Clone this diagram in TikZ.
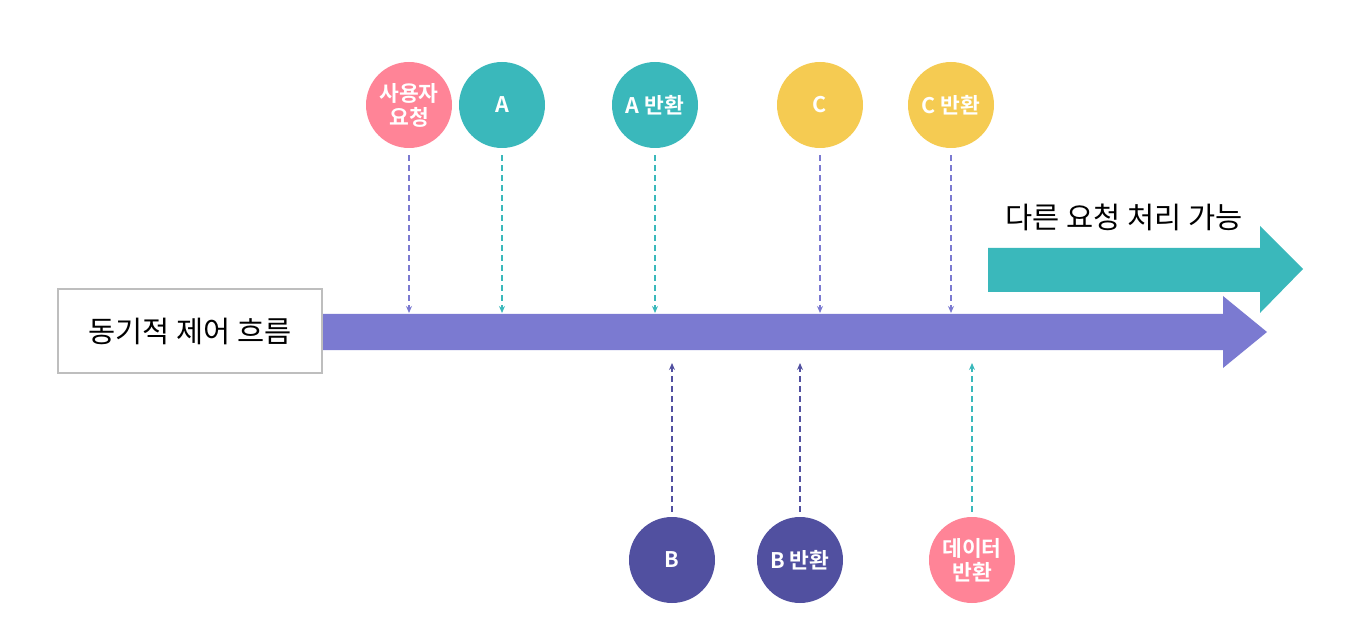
\documentclass[tikz,border=0pt]{standalone}
\usepackage{fontspec}
\usepackage{xcolor}
\usetikzlibrary{arrows.meta}
\newfontfamily\kr{Noto Sans CJK KR}[BoldFont={Noto Sans CJK KR Bold}]
\definecolor{pinkc}{HTML}{FF8497}
\definecolor{tealc}{HTML}{3AB8BB}
\definecolor{yellowc}{HTML}{F5CB52}
\definecolor{barc}{HTML}{7B7AD1}
\definecolor{darkc}{HTML}{5150A0}
\definecolor{boxc}{HTML}{BEBEBE}
\tikzset{
  ev/.style={circle, minimum size=86pt, inner sep=0pt, text=white, align=center,
    font=\kr\bfseries\fontsize{21.5}{25}\selectfont},
  link/.style={dashed, dash pattern=on 6pt off 4pt, line width=1.8pt, -{Stealth[length=7pt,width=6pt]}}
}
\begin{document}
\begin{tikzpicture}[x=1pt,y=-1pt]
\useasboundingbox (0,0) rectangle (1345,639);
% flows
\fill[barc] (322,314) -- (1223,314) -- (1223,296) -- (1267,332) -- (1223,368) -- (1223,350) -- (322,350) -- cycle;
\fill[tealc] (988,248) -- (1260,248) -- (1260,226) -- (1303,269) -- (1260,313) -- (1260,292) -- (988,292) -- cycle;
\node[font=\kr\fontsize{29.5}{34}\selectfont] (other) at (1124,217) {다른 요청 처리 가능};
\node[draw=boxc, line width=2pt, minimum width=264pt, minimum height=83pt, fill=white,
  font=\kr\fontsize{29.5}{34}\selectfont] (sync) at (190,331) {동기적 제어 흐름};
% events above
\node[ev, fill=pinkc] (req) at (409,105) {사용자\\[-1pt]요청};
\node[ev, fill=tealc] (a) at (502,105) {A};
\node[ev, fill=tealc] (aret) at (655,105) {A 반환};
\node[ev, fill=yellowc] (c) at (820,105) {C};
\node[ev, fill=yellowc] (cret) at (951,105) {C 반환};
% events below
\node[ev, fill=darkc] (b) at (672,560) {B};
\node[ev, fill=darkc] (bret) at (800,560) {B 반환};
\node[ev, fill=pinkc] (data) at (972,560) {데이터\\[-1pt]반환};
\coordinate (reqE) at (409,313);
\coordinate (aE) at (502,313);
\coordinate (aretE) at (655,313);
\coordinate (cE) at (820,313);
\coordinate (cretE) at (951,313);
\coordinate (bE) at (672,363);
\coordinate (bretE) at (800,363);
\coordinate (dataE) at (972,363);
\draw[link, barc] ([yshift=-7pt]req.south) -- (reqE);
\draw[link, tealc] ([yshift=-7pt]a.south) -- (aE);
\draw[link, tealc] ([yshift=-7pt]aret.south) -- (aretE);
\draw[link, barc] ([yshift=-7pt]c.south) -- (cE);
\draw[link, barc] ([yshift=-7pt]cret.south) -- (cretE);
\draw[link, darkc] ([yshift=5pt]b.north) -- (bE);
\draw[link, darkc] ([yshift=5pt]bret.north) -- (bretE);
\draw[link, tealc] ([yshift=5pt]data.north) -- (dataE);
\end{tikzpicture}
\end{document}
